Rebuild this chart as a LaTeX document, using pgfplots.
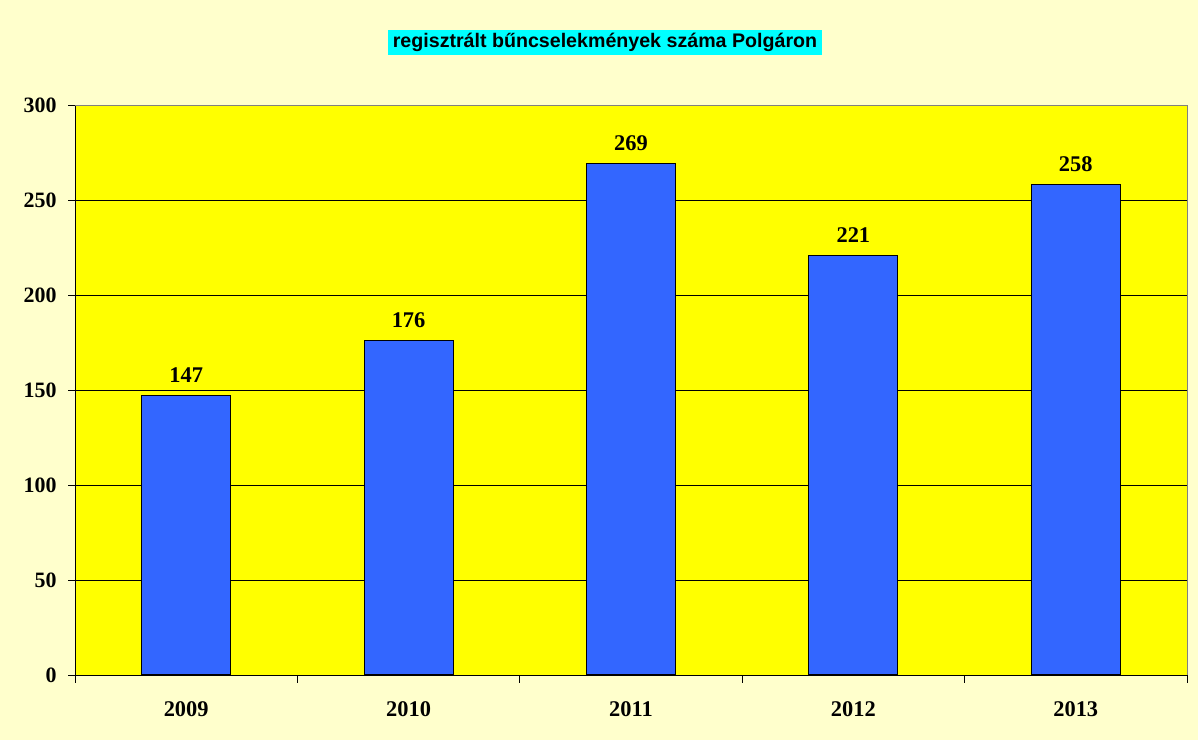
\documentclass[border=0pt]{standalone}
\usepackage{pgfplots}
\pgfplotsset{compat=1.18}
\usepackage{fontspec}
\setmainfont{Liberation Serif}
\newfontfamily\arialfont{Liberation Sans}
\definecolor{bgcol}{HTML}{FFFFCC}
\definecolor{plotcol}{HTML}{FFFF00}
\definecolor{barcol}{HTML}{3366FF}
\definecolor{titlecol}{HTML}{00FFFF}
\begin{document}
\begin{tikzpicture}[x=1bp,y=1bp]
\fill[bgcol] (0,0) rectangle (1198,740);
\begin{axis}[
  at={(75bp,65bp)}, anchor=south west,
  scale only axis, width=1112bp, height=570bp,
  axis background/.style={fill=plotcol},
  xmin=-0.5, xmax=4.5, ymin=0, ymax=300,
  axis lines=left,
  axis line style={-, black, line width=0.8pt},
  ytick={0,50,...,300},
  xtick={0,1,2,3,4},
  xticklabels={2009,2010,2011,2012,2013},
  minor xtick={-0.5,0.5,...,4.5},
  tick align=outside,
  major tick length=7bp,
  minor tick length=8bp,
  xtick style={draw=none},
  minor x tick style={draw=black, line width=0.6pt},
  ytick style={black, line width=0.6pt},
  ymajorgrids,
  grid style={black, line width=0.6pt},
  yticklabel style={font=\fontsize{22}{24}\selectfont\bfseries, xshift=-8bp},
  xticklabel style={font=\fontsize{22.5}{24}\selectfont\bfseries, yshift=-16bp},
  /pgf/number format/assume math mode=true,
  ybar, bar width=89bp,
  nodes near coords,
  nodes near coords style={font=\fontsize{22.5}{24}\selectfont\bfseries, anchor=south, yshift=9bp},
  clip=false,
]
\addplot[fill=barcol, draw=black, line width=1pt] coordinates {(0,147) (1,176) (2,269) (3,221) (4,258)};
\draw[gray, line width=0.8pt] (rel axis cs:0,1) -- (rel axis cs:1,1) -- (rel axis cs:1,0);
\end{axis}
\node[fill=titlecol, inner xsep=5bp, minimum height=25bp, font=\arialfont\fontsize{19.7}{22}\selectfont\bfseries] at (605,697.5) {regisztrált bűncselekmények száma Polgáron};
\pgfresetboundingbox
\useasboundingbox (0,0) rectangle (1198,740);
\end{tikzpicture}
\end{document}
